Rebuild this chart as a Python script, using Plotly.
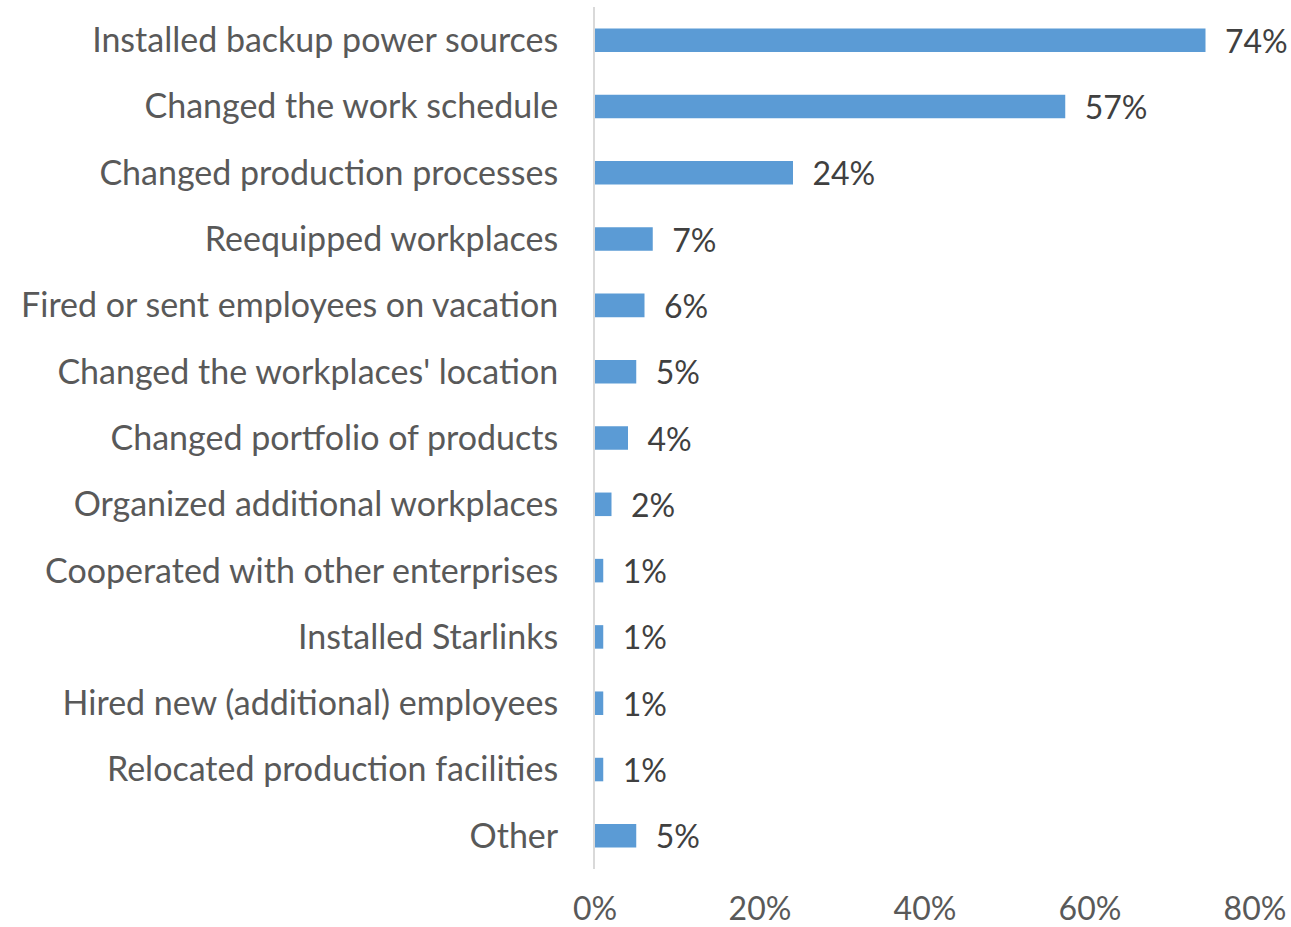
import plotly.graph_objects as go

# Survey: measures taken by enterprises in response to power outages
categories = [
    "Installed backup power sources",
    "Changed the work schedule",
    "Changed production processes",
    "Reequipped workplaces",
    "Fired or sent employees on vacation",
    "Changed the workplaces' location",
    "Changed portfolio of products",
    "Organized additional workplaces",
    "Cooperated with other enterprises",
    "Installed Starlinks",
    "Hired new (additional) employees",
    "Relocated production facilities",
    "Other",
]
shares = [74, 57, 24, 7, 6, 5, 4, 2, 1, 1, 1, 1, 5]
x_ticks = [0, 20, 40, 60, 80]

FONT = "Lato"
SIZE = 34
VALUE_SIZE = 32
BAR_COLOR = "#5B9BD5"

fig = go.Figure(
    go.Bar(
        x=shares,
        y=categories,
        orientation="h",
        marker=dict(color=BAR_COLOR, line=dict(width=0)),
        texttemplate="  %{x}%",
        textposition="outside",
        constraintext="none",
        textfont=dict(family=FONT, size=VALUE_SIZE, color="#404040"),
        cliponaxis=False,
        hoverinfo="skip",
    )
)

fig.update_layout(
    width=1291,
    height=927,
    margin=dict(l=595, r=36, t=7, b=58),
    paper_bgcolor="white",
    plot_bgcolor="white",
    bargap=0.645,
    showlegend=False,
    font=dict(family=FONT, color="#595959"),
)

fig.update_xaxes(
    range=[0, 80],
    tickvals=x_ticks,
    ticktext=[f"{v}%" for v in x_ticks],
    showgrid=False,
    zeroline=False,
    showline=False,
    ticks="",
    automargin=False,
    ticklabelstandoff=18,
    tickfont=dict(family=FONT, size=VALUE_SIZE, color="#595959"),
)

fig.update_yaxes(
    categoryorder="array",
    categoryarray=categories[::-1],
    showgrid=False,
    zeroline=False,
    showline=True,
    linecolor="#D9D9D9",
    linewidth=2,
    ticks="",
    automargin=False,
    ticklabelstandoff=28,
    tickfont=dict(family=FONT, size=SIZE, color="#595959"),
)

fig.write_html("out.html")
